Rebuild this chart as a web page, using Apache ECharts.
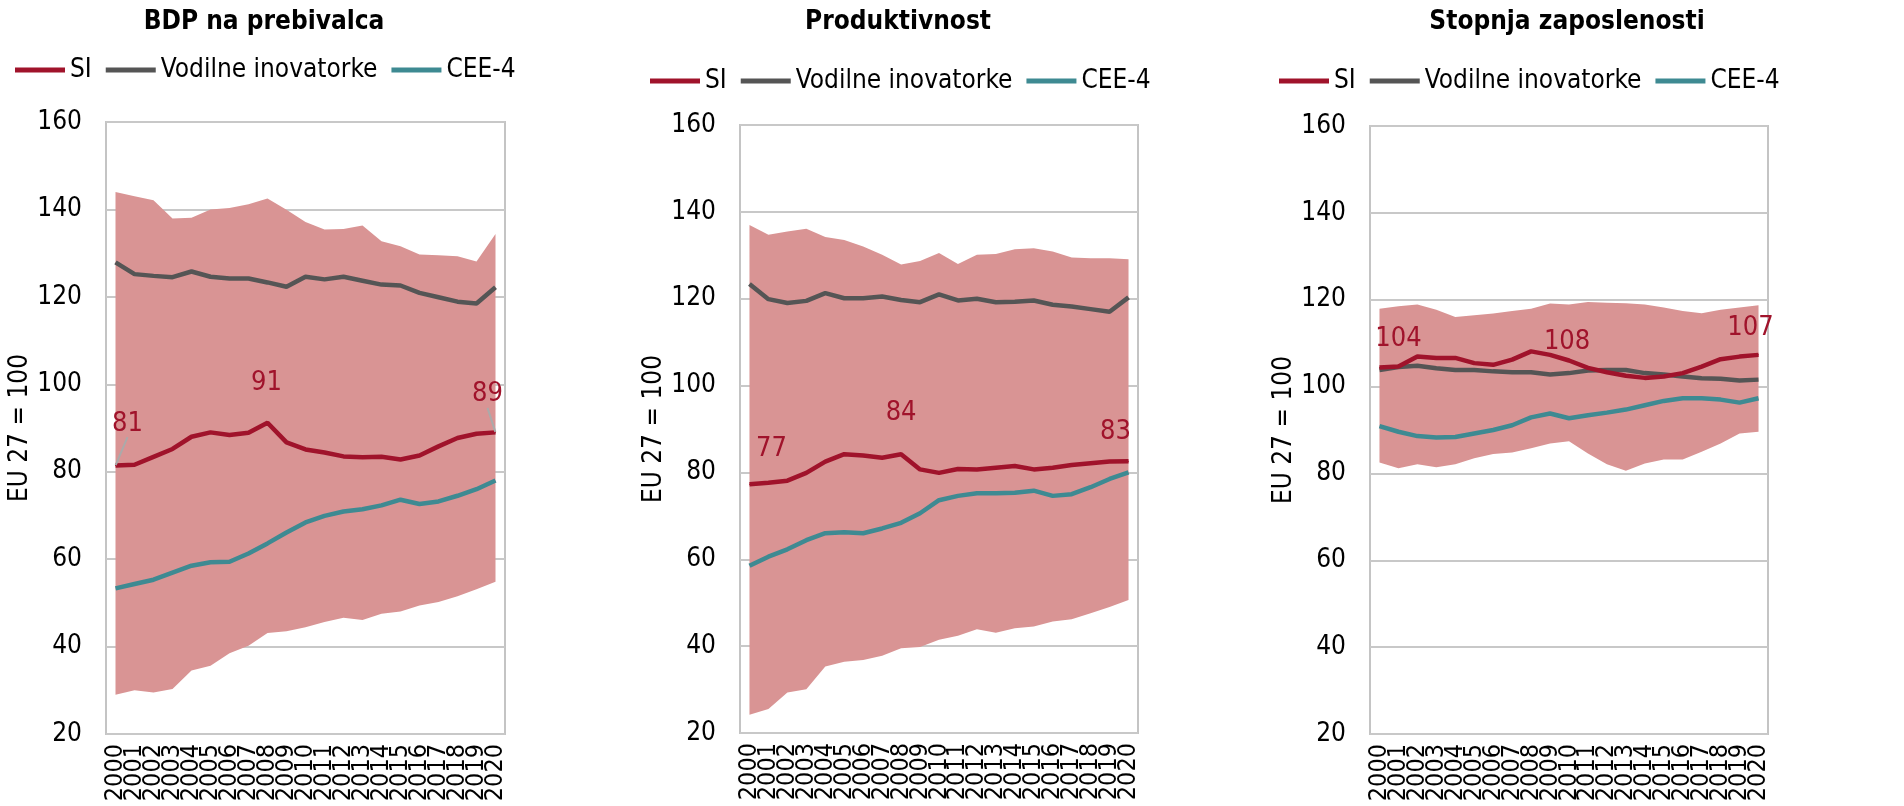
<!DOCTYPE html>
<html>
<head>
<meta charset="utf-8">
<script src="https://cdn.jsdelivr.net/npm/echarts@6/dist/echarts.min.js"></script>
<style>
  html, body { margin: 0; padding: 0; background: #fff; }
  #chart { width: 1904px; height: 806px; }
</style>
</head>
<body>
<div id="chart"></div>
<script>
// leta
const years = ['2000', '2001', '2002', '2003', '2004', '2005', '2006', '2007', '2008', '2009', '2010',
  '2011', '2012', '2013', '2014', '2015', '2016', '2017', '2018', '2019', '2020']

// BDP na prebivalca
const bdpSi = [81.4, 81.6, 83.4, 85.2, 88.0, 89.0, 88.4, 88.9, 91.2, 86.7, 85.1, 84.4, 83.5, 83.3, 83.4, 82.8, 83.7, 85.8, 87.7, 88.7, 89.0]
const bdpLead = [127.9, 125.2, 124.8, 124.5, 125.8, 124.6, 124.2, 124.2, 123.3, 122.3, 124.6, 124.0, 124.6, 123.7, 122.8, 122.6, 120.9, 119.9, 118.9, 118.5, 122.2]
const bdpCee = [53.3, 54.3, 55.3, 56.9, 58.5, 59.3, 59.4, 61.3, 63.6, 66.1, 68.4, 69.9, 70.9, 71.4, 72.3, 73.6, 72.6, 73.2, 74.5, 76.0, 78.0]
const bdpMin = [29.0, 30.0, 29.5, 30.3, 34.5, 35.6, 38.5, 40.2, 43.1, 43.5, 44.4, 45.6, 46.6, 46.1, 47.5, 48.0, 49.4, 50.2, 51.5, 53.1, 54.8]
const bdpMax = [144.0, 143.0, 142.1, 137.9, 138.1, 140.0, 140.3, 141.2, 142.5, 139.9, 137.1, 135.4, 135.5, 136.3, 132.7, 131.6, 129.7, 129.5, 129.3, 128.1, 134.4]

// Produktivnost
const prodSi = [77.3, 77.6, 78.1, 79.9, 82.5, 84.2, 83.9, 83.4, 84.2, 80.7, 79.9, 80.8, 80.7, 81.1, 81.5, 80.7, 81.1, 81.7, 82.1, 82.5, 82.6]
const prodLead = [123.4, 119.9, 119.0, 119.5, 121.3, 120.1, 120.1, 120.5, 119.7, 119.2, 121.0, 119.6, 120.0, 119.2, 119.3, 119.6, 118.6, 118.2, 117.6, 117.0, 120.3]
const prodCee = [58.5, 60.6, 62.3, 64.4, 66.0, 66.2, 66.0, 67.1, 68.4, 70.6, 73.6, 74.6, 75.2, 75.2, 75.3, 75.8, 74.6, 75.0, 76.6, 78.5, 80.0]
const prodMin = [24.2, 25.5, 29.3, 30.1, 35.3, 36.4, 36.8, 37.8, 39.5, 39.8, 41.5, 42.4, 43.9, 43.1, 44.1, 44.5, 45.7, 46.2, 47.6, 49.0, 50.6]
const prodMax = [137.0, 134.7, 135.5, 136.1, 134.2, 133.5, 132.0, 130.1, 127.9, 128.7, 130.5, 128.0, 130.1, 130.3, 131.4, 131.6, 130.9, 129.5, 129.3, 129.3, 129.1]

// Stopnja zaposlenosti
const zapSi = [104.4, 104.6, 106.9, 106.6, 106.6, 105.4, 105.0, 106.2, 108.1, 107.3, 106.0, 104.3, 103.3, 102.5, 102.0, 102.3, 103.1, 104.6, 106.3, 106.9, 107.3]
const zapLead = [103.8, 104.5, 104.8, 104.2, 103.8, 103.8, 103.5, 103.3, 103.3, 102.8, 103.1, 103.7, 103.8, 103.8, 103.1, 102.8, 102.3, 101.9, 101.8, 101.4, 101.6]
const zapCee = [90.9, 89.6, 88.6, 88.3, 88.4, 89.2, 90.0, 91.1, 92.9, 93.8, 92.7, 93.4, 94.0, 94.7, 95.7, 96.7, 97.3, 97.3, 97.0, 96.3, 97.3]
const zapMin = [82.5, 81.2, 82.1, 81.4, 82.1, 83.5, 84.5, 84.8, 85.8, 86.9, 87.4, 84.6, 82.1, 80.6, 82.3, 83.2, 83.2, 85.0, 86.9, 89.2, 89.6]
const zapMax = [117.9, 118.5, 118.9, 117.7, 116.0, 116.4, 116.8, 117.4, 117.9, 119.1, 118.9, 119.5, 119.3, 119.2, 118.9, 118.2, 117.4, 116.9, 117.7, 118.2, 118.7]

// oznake za SI: [indeks, dx, dy, vodilna črta]
const bdpLabels = [[0, 12, -42, true], [8, -1, -40, false], [20, -8, -38, true]]
const prodLabels = [[0, 22, -35, false], [8, 0, -41, false], [20, -13, -29, false]]
const zapLabels = [[0, 19, -28, false], [8, 36, -9, false], [20, -8, -27, false]]

const FONT = "'DejaVu Sans Condensed', 'Liberation Sans', sans-serif"
const RED = '#a0132b'
const GREY = '#555555'
const TEAL = '#3e8a92'
const BAND = '#d99494'

const panels = [
  { title: 'BDP na prebivalca', cx: 264, legendLeft: 15, legendTop: 57, grid: { left: 106, top: 122, width: 399, height: 612 },
    si: bdpSi, lead: bdpLead, cee: bdpCee, min: bdpMin, max: bdpMax, labels: bdpLabels },
  { title: 'Produktivnost', cx: 898, legendLeft: 650, legendTop: 68, grid: { left: 740, top: 125, width: 398, height: 608 },
    si: prodSi, lead: prodLead, cee: prodCee, min: prodMin, max: prodMax, labels: prodLabels },
  { title: 'Stopnja zaposlenosti', cx: 1567, legendLeft: 1279, legendTop: 68, grid: { left: 1370, top: 126, width: 398, height: 608 },
    si: zapSi, lead: zapLead, cee: zapCee, min: zapMin, max: zapMax, labels: zapLabels }
]

const option = {
  backgroundColor: '#fff',
  animation: false,
  title: [],
  legend: [],
  grid: [],
  xAxis: [],
  yAxis: [],
  series: []
}

panels.forEach((p, i) => {
  option.title.push({
    text: p.title,
    left: p.cx,
    top: 9,
    padding: 0,
    textAlign: 'center',
    textStyle: { fontFamily: FONT, fontSize: 26, fontWeight: 'bold', color: '#000' }
  })

  option.grid.push(Object.assign({ show: true, borderColor: '#c4c4c4', borderWidth: 2, containLabel: false }, p.grid))

  option.xAxis.push({
    type: 'category',
    gridIndex: i,
    data: years,
    boundaryGap: true,
    axisLine: { show: false },
    axisTick: { show: false },
    axisLabel: { interval: 0, rotate: 90, margin: 10, fontFamily: FONT, fontSize: 25, color: '#000' }
  })

  option.yAxis.push({
    type: 'value',
    gridIndex: i,
    min: 20,
    max: 160,
    interval: 20,
    name: 'EU 27 = 100',
    nameLocation: 'middle',
    nameGap: 73,
    nameTextStyle: { fontFamily: FONT, fontSize: 26, color: '#000' },
    axisLine: { show: false },
    axisTick: { show: false },
    axisLabel: { margin: 24, fontFamily: FONT, fontSize: 26, color: '#000' },
    splitLine: { lineStyle: { color: '#c8c8c8', width: 2 } }
  })

  option.legend.push({
    data: ['SI', 'Vodilne inovatorke', 'CEE-4'],
    left: p.legendLeft,
    top: p.legendTop,
    padding: 0,
    icon: 'rect',
    itemWidth: 50,
    itemHeight: 5,
    itemGap: 14,
    selectedMode: false,
    textStyle: { fontFamily: FONT, fontSize: 26, color: '#000' }
  })

  // razpon (min - max)
  option.series.push({
    name: 'min' + i,
    type: 'line',
    xAxisIndex: i,
    yAxisIndex: i,
    stack: 'band' + i,
    data: p.min,
    symbol: 'none',
    lineStyle: { opacity: 0 },
    silent: true
  })
  option.series.push({
    name: 'range' + i,
    type: 'line',
    xAxisIndex: i,
    yAxisIndex: i,
    stack: 'band' + i,
    data: p.max.map((v, k) => +(v - p.min[k]).toFixed(1)),
    symbol: 'none',
    lineStyle: { opacity: 0 },
    areaStyle: { color: BAND, opacity: 1 },
    silent: true
  })

  option.series.push({
    name: 'Vodilne inovatorke',
    type: 'line',
    xAxisIndex: i,
    yAxisIndex: i,
    data: p.lead,
    symbol: 'none',
    color: GREY,
    lineStyle: { color: GREY, width: 4.5 },
    z: 3
  })
  option.series.push({
    name: 'CEE-4',
    type: 'line',
    xAxisIndex: i,
    yAxisIndex: i,
    data: p.cee,
    symbol: 'none',
    color: TEAL,
    lineStyle: { color: TEAL, width: 4.5 },
    z: 3
  })

  const labelMap = {}
  p.labels.forEach(l => { labelMap[l[0]] = l })
  const anyLine = p.labels.some(l => l[3])
  option.series.push({
    name: 'SI',
    type: 'line',
    xAxisIndex: i,
    yAxisIndex: i,
    data: p.si.map((v, k) => {
      const l = labelMap[k]
      if (!l) return v
      return {
        value: v,
        label: { show: true, formatter: String(Math.round(v)) },
        labelLine: { show: l[3] }
      }
    }),
    symbol: 'circle',
    symbolSize: 1,
    showSymbol: true,
    showAllSymbol: true,
    color: RED,
    lineStyle: { color: RED, width: 4.5 },
    label: {
      show: false,
      position: 'inside',
      fontFamily: FONT,
      fontSize: 27,
      color: RED
    },
    labelLine: { show: anyLine, lineStyle: { color: '#aaaaaa', width: 2 } },
    labelLayout: (params) => {
      const l = labelMap[params.dataIndex]
      if (!l) return {}
      return { dx: l[1], dy: l[2] }
    },
    z: 4
  })
})

const chart = echarts.init(document.getElementById('chart'))
chart.setOption(option)
</script>
</body>
</html>
